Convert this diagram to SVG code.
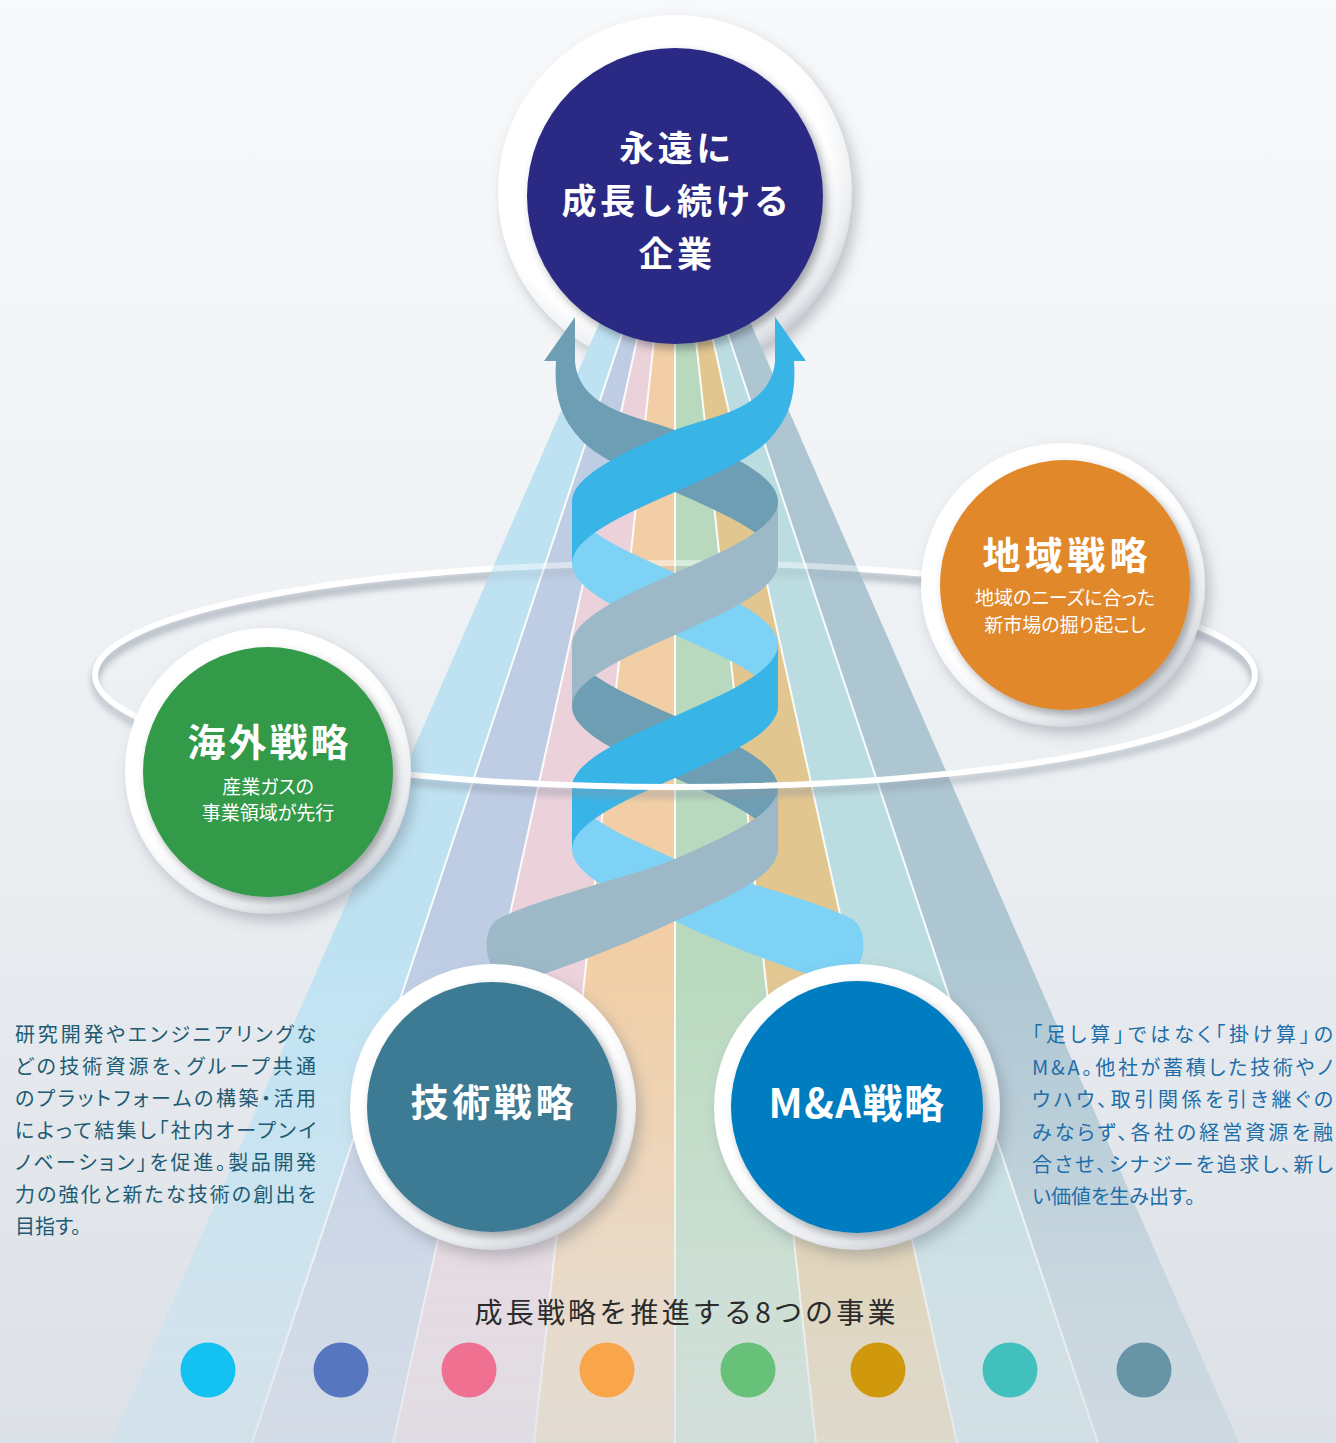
<svg xmlns="http://www.w3.org/2000/svg" xmlns:xlink="http://www.w3.org/1999/xlink" width="1336" height="1443" viewBox="0 0 1336 1443">
  <defs>
    <style>
      .jp { font-family: 'Noto Sans CJK JP', 'Noto Sans', sans-serif; }
      .title { font-family: 'Noto Sans CJK JP', 'Noto Sans', sans-serif; font-weight: 700; fill: #ffffff; text-anchor: middle; }
      .sub { font-family: 'Noto Sans CJK JP', 'Noto Sans', sans-serif; font-size: 19px; fill: #ffffff; text-anchor: middle; font-feature-settings: 'palt' 1; }
      .para-l { font-family: 'Noto Sans CJK JP', 'Noto Sans', sans-serif; font-size: 20px; fill: #205b73; font-feature-settings: 'palt' 1; }
      .para-r { font-family: 'Noto Sans CJK JP', 'Noto Sans', sans-serif; font-size: 20px; fill: #1e6eaa; font-feature-settings: 'palt' 1; }
      .ring { fill: url(#ringShade); filter: url(#ringShadow); }
      .disk { filter: url(#diskShadow); }
      .sep { stroke: #ffffff; stroke-width: 2; opacity: 0.9; }
      .orbit { fill: none; stroke: #ffffff; stroke-width: 6; }
      .orbit-shadow { fill: none; stroke: #8a94a2; stroke-width: 8; opacity: 0.45; filter: url(#soft); }
    </style>

    <linearGradient id="bg" x1="0" y1="0" x2="0" y2="1">
      <stop offset="0" stop-color="#f8f9fa"/>
      <stop offset="0.5" stop-color="#edf0f3"/>
      <stop offset="1" stop-color="#dce1e7"/>
    </linearGradient>

    <radialGradient id="ringShade" cx="0.45" cy="0.42" r="0.6">
      <stop offset="0" stop-color="#ffffff"/>
      <stop offset="0.8" stop-color="#ffffff"/>
      <stop offset="0.92" stop-color="#eceef1"/>
      <stop offset="1" stop-color="#c6cbd2"/>
    </radialGradient>

    <filter id="ringShadow" x="-20%" y="-20%" width="150%" height="150%">
      <feDropShadow dx="5" dy="7" stdDeviation="7" flood-color="#6b7380" flood-opacity="0.4"/>
    </filter>
    <filter id="diskShadow" x="-20%" y="-20%" width="150%" height="150%">
      <feDropShadow dx="4" dy="5" stdDeviation="4" flood-color="#3a3f48" flood-opacity="0.45"/>
    </filter>
    <filter id="soft" x="-5%" y="-30%" width="110%" height="160%">
      <feGaussianBlur stdDeviation="3"/>
    </filter>

    <!-- fade of the fan toward the bottom edge -->
    <linearGradient id="fadeGrad" gradientUnits="userSpaceOnUse" x1="0" y1="300" x2="0" y2="1443">
      <stop offset="0" stop-color="#fff" stop-opacity="1"/>
      <stop offset="0.57" stop-color="#fff" stop-opacity="1"/>
      <stop offset="0.70" stop-color="#fff" stop-opacity="0.8"/>
      <stop offset="0.875" stop-color="#fff" stop-opacity="0.45"/>
      <stop offset="1" stop-color="#fff" stop-opacity="0.3"/>
    </linearGradient>
    <mask id="fade" maskUnits="userSpaceOnUse" x="0" y="0" width="1336" height="1443">
      <rect width="1336" height="1443" fill="url(#fadeGrad)"/>
    </mask>

    <!-- one half turn of a helix ribbon, descending right to left, origin at axis/top -->
    <path id="halfTurn" d="M103,0 C103,11.92 91.9,23.83 72.83,35.75 C53.76,47.67 26.97,59.58 0,71.5 C-26.97,83.42 -53.76,95.33 -72.83,107.25 C-91.9,119.17 -103,131.08 -103,143 L-103,205 C-103,193.08 -91.9,181.17 -72.83,169.25 C-53.76,157.33 -26.97,145.42 0,133.5 C26.97,121.58 53.76,109.67 72.83,97.75 C91.9,85.83 103,73.92 103,62 Z"/>

    <!-- upper half turn with the arrowhead on the right -->
    <path id="arrowTurn" d="M775,317 L806,361 L794,361 C796,392 791,415 771.8,436.4 C766.7,443 758.4,449.65 747.83,456.25 C728.76,468.17 701.97,480.08 675,492 C648.03,503.92 621.24,515.83 602.17,527.75 C583.1,539.67 572,551.58 572,563.5 L572,501.5 C572,489.58 583.1,477.67 602.17,465.75 C621.24,453.83 648.03,441.92 675,430 C712,416 770,410 775,362 Z"/>

    <!-- lower half turn flaring out toward the left -->
    <path id="flareTurn" d="M778,787.5 C778,799.42 766.9,811.33 747.83,823.25 C728.76,835.17 701.97,847.08 675,859 C633,876 540,898 500,918 C482,926 482,962 500,975 L540,975 C580,962 640,938 675,921 C701.97,909.08 728.76,897.17 747.83,885.25 C766.9,873.33 778,861.42 778,849.5 Z"/>

    <path id="orbitBack" d="M95,675 A580,112 0 0 1 1255,675"/>
    <path id="orbitFront" d="M95,675 A580,112 0 0 0 1255,675"/>
  </defs>

  <!-- backdrop -->
  <rect width="1336" height="1443" fill="url(#bg)"/>

  <!-- white halo behind the goal -->
  <circle class="ring" cx="675" cy="192" r="177"/>

  <!-- far side of the orbit -->
  <g id="orbit-back">
    <use href="#orbitBack" class="orbit-shadow" transform="translate(0,7)"/>
    <use href="#orbitBack" class="orbit"/>
  </g>

  <!-- fan of eight business bands -->
  <g id="rays" mask="url(#fade)">
    <polygon points="609.4,300 633.4,300 252,1443 111,1443" fill="#bee2f2"/>
    <polygon points="633.4,300 645.8,300 393,1443 252,1443" fill="#becde4"/>
    <polygon points="645.8,300 658.4,300 534,1443 393,1443" fill="#ebd1da"/>
    <polygon points="658.4,300 675,300 675,1443 534,1443" fill="#f1cea5"/>
    <polygon points="675,300 691.6,300 816,1443 675,1443" fill="#b8d9bd"/>
    <polygon points="691.6,300 704.2,300 957,1443 816,1443" fill="#e2c68f"/>
    <polygon points="704.2,300 716.6,300 1098,1443 957,1443" fill="#bbdce0"/>
    <polygon points="716.6,300 740.6,300 1239,1443 1098,1443" fill="#adc6d2"/>
    <line class="sep" x1="633.4" y1="300" x2="252" y2="1443"/>
    <line class="sep" x1="645.8" y1="300" x2="393" y2="1443"/>
    <line class="sep" x1="658.4" y1="300" x2="534" y2="1443"/>
    <line class="sep" x1="675" y1="300" x2="675" y2="1443"/>
    <line class="sep" x1="691.6" y1="300" x2="816" y2="1443"/>
    <line class="sep" x1="704.2" y1="300" x2="957" y2="1443"/>
    <line class="sep" x1="716.6" y1="300" x2="1098" y2="1443"/>
  </g>

  <!-- far orbit seen through the fan -->
  <g opacity="0.45">
    <use href="#orbitBack" class="orbit-shadow" transform="translate(0,7)"/>
    <use href="#orbitBack" class="orbit"/>
  </g>

  <!-- goal node -->
  <g id="node-goal">
    <circle class="disk" cx="675" cy="196" r="148" fill="#2b2a85"/>
    <text class="title" font-size="35" letter-spacing="3.5" x="677" y="161">永遠に</text>
    <text class="title" font-size="35" letter-spacing="3.5" x="677" y="214">成長し続ける</text>
    <text class="title" font-size="35" letter-spacing="3.5" x="677" y="267">企業</text>
  </g>

  <!-- double helix with arrows rising to the goal -->
  <g id="connectors">
    <!-- rear halves -->
    <use href="#arrowTurn" fill="#6e9eb4" transform="translate(1350,0) scale(-1,1)"/>
    <use href="#halfTurn" fill="#7dd2f5" transform="translate(675,501.5) scale(-1,1)"/>
    <use href="#halfTurn" fill="#6e9eb4" transform="translate(675,644.5) scale(-1,1)"/>
    <use href="#flareTurn" fill="#7dd2f5" transform="translate(1350,0) scale(-1,1)"/>
    <!-- front halves -->
    <use href="#arrowTurn" fill="#39b4e6"/>
    <use href="#halfTurn" fill="#9db9c8" transform="translate(675,501.5)"/>
    <use href="#halfTurn" fill="#39b4e6" transform="translate(675,644.5)"/>
    <use href="#flareTurn" fill="#9db9c8"/>
  </g>

  <!-- near side of the orbit -->
  <g id="orbit-front">
    <use href="#orbitFront" class="orbit-shadow" transform="translate(0,7)"/>
    <use href="#orbitFront" class="orbit"/>
  </g>

  <!-- strategy nodes -->
  <g id="node-overseas">
    <circle class="ring" cx="268" cy="771" r="143"/>
    <circle class="disk" cx="268" cy="772" r="125" fill="#339a48"/>
    <text class="title" font-size="38" x="268" y="756" textLength="161" lengthAdjust="spacing">海外戦略</text>
    <text class="sub" x="268" y="794">産業ガスの</text>
    <text class="sub" x="268" y="820">事業領域が先行</text>
  </g>

  <g id="node-regional">
    <circle class="ring" cx="1063" cy="585" r="142"/>
    <circle class="disk" cx="1065" cy="585" r="125" fill="#e0882a"/>
    <text class="title" font-size="38" x="1065" y="569" textLength="165" lengthAdjust="spacing">地域戦略</text>
    <text class="sub" x="1065" y="605">地域のニーズに合った</text>
    <text class="sub" x="1065" y="632">新市場の掘り起こし</text>
  </g>

  <g id="node-tech">
    <circle class="ring" cx="493" cy="1107" r="143"/>
    <circle class="disk" cx="492" cy="1107" r="125" fill="#3e7a94"/>
    <text class="title" font-size="38" x="492" y="1116" textLength="163" lengthAdjust="spacing">技術戦略</text>
  </g>

  <g id="node-ma">
    <circle class="ring" cx="857" cy="1107" r="143"/>
    <circle class="disk" cx="857" cy="1107" r="126" fill="#007dc0"/>
    <text class="title" font-size="40" letter-spacing="1.5" x="857" y="1118">M&amp;A戦略</text>
  </g>

  <!-- description of the technology strategy -->
  <g id="text-tech">
    <text class="para-l" x="15" y="1042" textLength="301" lengthAdjust="spacing">研究開発やエンジニアリングな</text>
    <text class="para-l" x="15" y="1074" textLength="301" lengthAdjust="spacing">どの技術資源を、グループ共通</text>
    <text class="para-l" x="15" y="1106" textLength="301" lengthAdjust="spacing">のプラットフォームの構築・活用</text>
    <text class="para-l" x="15" y="1138" textLength="301" lengthAdjust="spacing">によって結集し「社内オープンイ</text>
    <text class="para-l" x="15" y="1170" textLength="301" lengthAdjust="spacing">ノベーション」を促進。製品開発</text>
    <text class="para-l" x="15" y="1202" textLength="301" lengthAdjust="spacing">力の強化と新たな技術の創出を</text>
    <text class="para-l" x="15" y="1234">目指す。</text>
  </g>

  <!-- description of the M&A strategy -->
  <g id="text-ma">
    <text class="para-r" x="1032" y="1042" textLength="301" lengthAdjust="spacing">「足し算」ではなく「掛け算」の</text>
    <text class="para-r" x="1032" y="1075" textLength="301" lengthAdjust="spacing">M&amp;A。他社が蓄積した技術やノ</text>
    <text class="para-r" x="1032" y="1107" textLength="301" lengthAdjust="spacing">ウハウ、取引関係を引き継ぐの</text>
    <text class="para-r" x="1032" y="1140" textLength="301" lengthAdjust="spacing">みならず、各社の経営資源を融</text>
    <text class="para-r" x="1032" y="1172" textLength="301" lengthAdjust="spacing">合させ、シナジーを追求し、新し</text>
    <text class="para-r" x="1032" y="1204">い価値を生み出す。</text>
  </g>

  <!-- eight businesses -->
  <g id="legend">
    <text class="jp" font-size="28" fill="#2b2b2b" text-anchor="middle" x="685" y="1323" textLength="421" lengthAdjust="spacing">成長戦略を推進する8つの事業</text>
    <circle cx="208" cy="1370" r="27.5" fill="#14c2f2"/>
    <circle cx="341" cy="1370" r="27.5" fill="#5677bf"/>
    <circle cx="469" cy="1370" r="27.5" fill="#f07092"/>
    <circle cx="607" cy="1370" r="27.5" fill="#f9a64a"/>
    <circle cx="748" cy="1370" r="27.5" fill="#67c178"/>
    <circle cx="878" cy="1370" r="27.5" fill="#d0990d"/>
    <circle cx="1010" cy="1370" r="27.5" fill="#42c0bd"/>
    <circle cx="1144" cy="1370" r="27.5" fill="#6795a6"/>
  </g>
</svg>
